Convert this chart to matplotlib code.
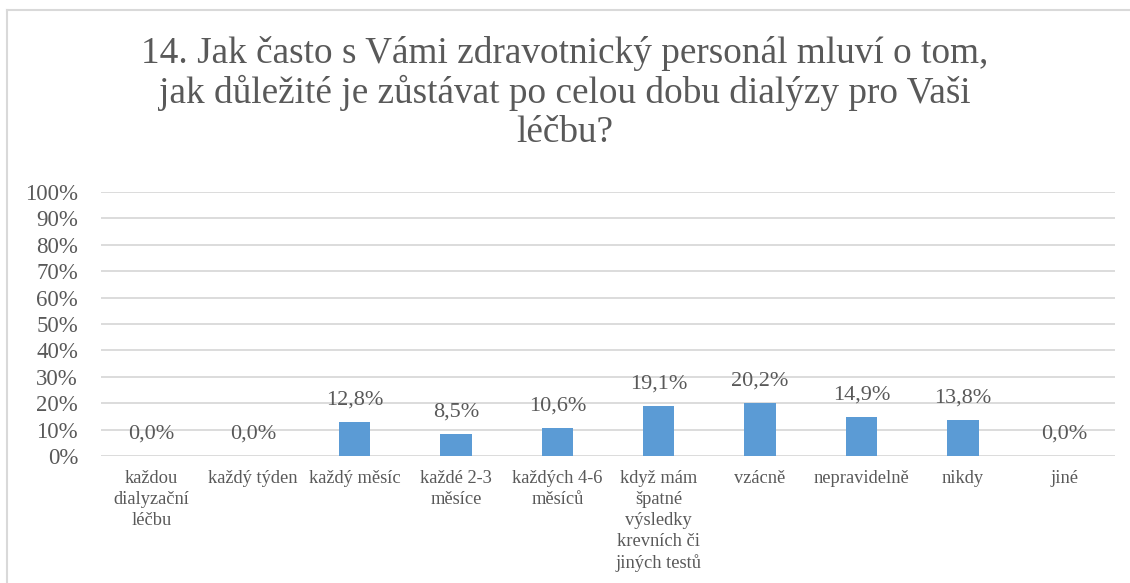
import numpy as np
import matplotlib.pyplot as plt
from matplotlib.lines import Line2D

# Data
categories = [
    "každou\ndialyzační\nléčbu",
    "každý týden",
    "každý měsíc",
    "každé 2-3\nměsíce",
    "každých 4-6\nměsíců",
    "když mám\nšpatné\nvýsledky\nkrevních či\njiných testů",
    "vzácně",
    "nepravidelně",
    "nikdy",
    "jiné",
]
values = [0.0, 0.0, 12.8, 8.5, 10.6, 19.1, 20.2, 14.9, 13.8, 0.0]
title = ("14. Jak často s Vámi zdravotnický personál mluví o tom,\n"
         "jak důležité je zůstávat po celou dobu dialýzy pro Vaši\n"
         "léčbu?")

text_color = "#595959"
bar_color = "#5B9BD5"
grid_color = "#D9D9D9"

plt.rcParams["font.family"] = ["Liberation Serif", "DejaVu Serif"]

fig = plt.figure(figsize=(11.3, 5.83), dpi=100)
ax = fig.add_axes([0.0894, 0.2178, 0.8973, 0.4529])

x = np.arange(len(categories))
ax.bar(x, values, width=0.31, color=bar_color, zorder=3)

for xi, v in zip(x, values):
    ax.annotate(f"{v:.1f}".replace(".", ",") + "%", (xi, v),
                xytext=(0, 9), textcoords="offset points",
                ha="center", va="bottom", fontsize=16, color=text_color,
                zorder=4)

ax.set_xlim(-0.5, len(categories) - 0.5)
ax.set_ylim(0, 100)
ax.set_yticks(np.arange(0, 101, 10))
ax.set_yticklabels([f"{t}%" for t in range(0, 101, 10)])
ax.set_xticks(x)
ax.set_xticklabels(categories, fontsize=13.3, linespacing=1.3)
ax.tick_params(axis="y", length=0, labelsize=16.5, labelcolor=text_color, pad=16.5)
ax.tick_params(axis="x", length=0, labelcolor=text_color, pad=10)
for lab in ax.get_xticklabels():
    lab.set_verticalalignment("top")

ax.grid(axis="y", color=grid_color, linewidth=1.3, zorder=0)
for s in ax.spines.values():
    s.set_visible(False)

fig.text(0.5, 1 - 93 / 583, title, ha="center", va="center", fontsize=26.8,
         color=text_color, linespacing=1.16)

# frame of the chart area
fig.add_artist(Line2D([7 / 1130, 1], [1 - 10 / 583, 1 - 10 / 583],
                      transform=fig.transFigure, color=grid_color, lw=1.5))
fig.add_artist(Line2D([7 / 1130, 7 / 1130], [0, 1 - 10 / 583],
                      transform=fig.transFigure, color=grid_color, lw=1.5))

fig.savefig("out.png", dpi=100)
